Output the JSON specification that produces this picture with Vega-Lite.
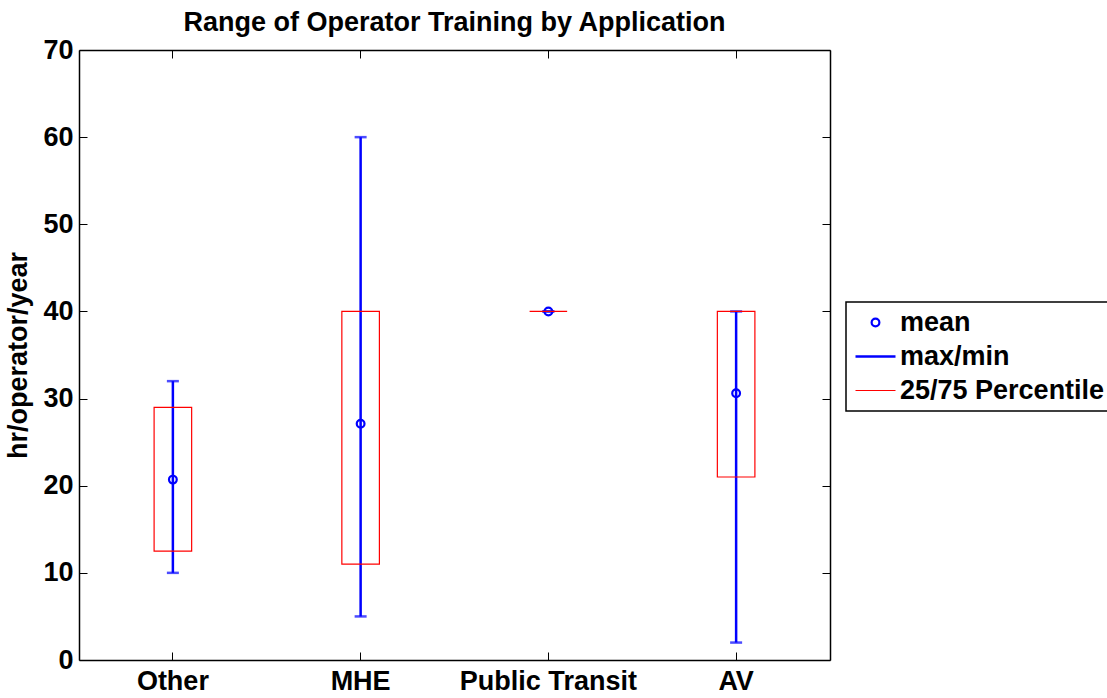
{
  "$schema": "https://vega.github.io/schema/vega-lite/v6.json",
  "autosize": "none",
  "width": 751,
  "height": 610,
  "padding": {"left": 79, "top": 50, "right": 277, "bottom": 38},
  "background": "white",
  "title": {
    "text": "Range of Operator Training by Application",
    "font": "Liberation Sans",
    "fontSize": 27,
    "fontWeight": "bold",
    "color": "black",
    "anchor": "middle",
    "frame": "group",
    "offset": -1
  },
  "config": {
    "view": {"stroke": null},
    "font": "Liberation Sans",
    "axis": {
      "grid": false,
      "domainColor": "black",
      "domainWidth": 1.5,
      "tickColor": "black",
      "tickWidth": 1,
      "tickSize": -8,
      "labelFont": "Liberation Sans",
      "labelFontSize": 27,
      "labelFontWeight": "bold",
      "labelColor": "black",
      "titleFont": "Liberation Sans",
      "titleFontSize": 27,
      "titleFontWeight": "bold",
      "titleColor": "black"
    }
  },
  "data": {
    "values": [
      {"app": "Other", "min": 10, "max": 32, "q25": 12.5, "q75": 29, "mean": 20.7},
      {"app": "MHE", "min": 5, "max": 60, "q25": 11, "q75": 40, "mean": 27.1},
      {"app": "Public Transit", "min": 40, "max": 40, "q25": 40, "q75": 40, "mean": 40},
      {"app": "AV", "min": 2, "max": 40, "q25": 21, "q75": 40, "mean": 30.6}
    ]
  },
  "resolve": {"axis": {"x": "independent", "y": "independent"}},
  "layer": [
    {
      "mark": {"type": "rule", "strokeWidth": 2.5},
      "encoding": {
        "x": {
          "field": "app", "type": "nominal",
          "scale": {"type": "band", "domain": ["Other", "MHE", "Public Transit", "AV"], "paddingInner": 0.8, "paddingOuter": 0.4},
          "sort": null,
          "axis": {"orient": "top", "labels": false, "title": null, "bandPosition": 0.5, "ticks": true}
        },
        "y": {
          "field": "min", "type": "quantitative",
          "scale": {"domain": [0, 70], "nice": false, "zero": true},
          "axis": {"orient": "right", "labels": false, "title": null, "values": [0, 10, 20, 30, 40, 50, 60, 70]}
        },
        "y2": {"field": "max"},
        "color": {
          "datum": "max/min", "type": "nominal",
          "scale": {"domain": ["mean", "max/min", "25/75 Percentile"], "range": ["#0000ff", "#0000ff", "#ff0000"]},
          "legend": {
            "title": null,
            "orient": "none",
            "legendX": 767,
            "legendY": 252,
            "direction": "vertical",
            "strokeColor": "black",
            "fillColor": "white",
            "padding": 7,
            "rowPadding": 6,
            "symbolSize": 1600,
            "symbolType": "stroke",
            "symbolFillColor": "transparent",
            "symbolOffset": 9,
            "labelOffset": 11,
            "labelFont": "Liberation Sans",
            "labelFontSize": 27,
            "labelFontWeight": "bold",
            "labelColor": "black",
            "labelLimit": 400,
            "encode": {
              "legend": {"update": {"strokeWidth": {"value": 1.5}}},
              "symbols": {
                "update": {
                  "shape": {"signal": "datum.value === 'mean' ? 'circle' : 'stroke'"},
                  "size": {"signal": "datum.value === 'mean' ? 60 : 1600"},
                  "strokeWidth": {"signal": "datum.value === 'max/min' ? 2.5 : (datum.value === 'mean' ? 2.2 : 1.2)"},
                  "fill": {"value": "transparent"},
                  "fillOpacity": {"value": 0},
                  "stroke": {"signal": "datum.value === '25/75 Percentile' ? '#ff0000' : '#0000ff'"},
                  "opacity": {"value": 1}
                }
              }
            }
          }
        }
      }
    },
    {
      "mark": {"type": "tick", "size": 12, "thickness": 2.5, "orient": "horizontal"},
      "encoding": {
        "x": {"field": "app", "type": "nominal", "sort": null, "axis": null},
        "y": {"field": "max", "type": "quantitative", "axis": null},
        "color": {"datum": "max/min", "type": "nominal"}
      }
    },
    {
      "mark": {"type": "tick", "size": 12, "thickness": 2.5, "orient": "horizontal"},
      "encoding": {
        "x": {"field": "app", "type": "nominal", "sort": null, "axis": null},
        "y": {"field": "min", "type": "quantitative", "axis": null},
        "color": {"datum": "max/min", "type": "nominal"}
      }
    },
    {
      "mark": {"type": "point", "shape": "circle", "filled": false, "size": 60, "strokeWidth": 2.2, "opacity": 1},
      "encoding": {
        "x": {"field": "app", "type": "nominal", "sort": null, "axis": null},
        "y": {"field": "mean", "type": "quantitative", "axis": null},
        "color": {"datum": "mean", "type": "nominal"}
      }
    },
    {
      "mark": {"type": "bar", "filled": false, "strokeWidth": 1.2, "fill": "transparent"},
      "encoding": {
        "x": {
          "field": "app", "type": "nominal", "sort": null,
          "axis": {"orient": "bottom", "title": null, "bandPosition": 0.5, "labelPadding": 16, "labelAngle": 0}
        },
        "y": {
          "field": "q25", "type": "quantitative",
          "axis": {"orient": "left", "title": "hr/operator/year", "values": [0, 10, 20, 30, 40, 50, 60, 70], "labelPadding": 14, "titlePadding": 10}
        },
        "y2": {"field": "q75"},
        "color": {"datum": "25/75 Percentile", "type": "nominal"}
      }
    }
  ]
}
